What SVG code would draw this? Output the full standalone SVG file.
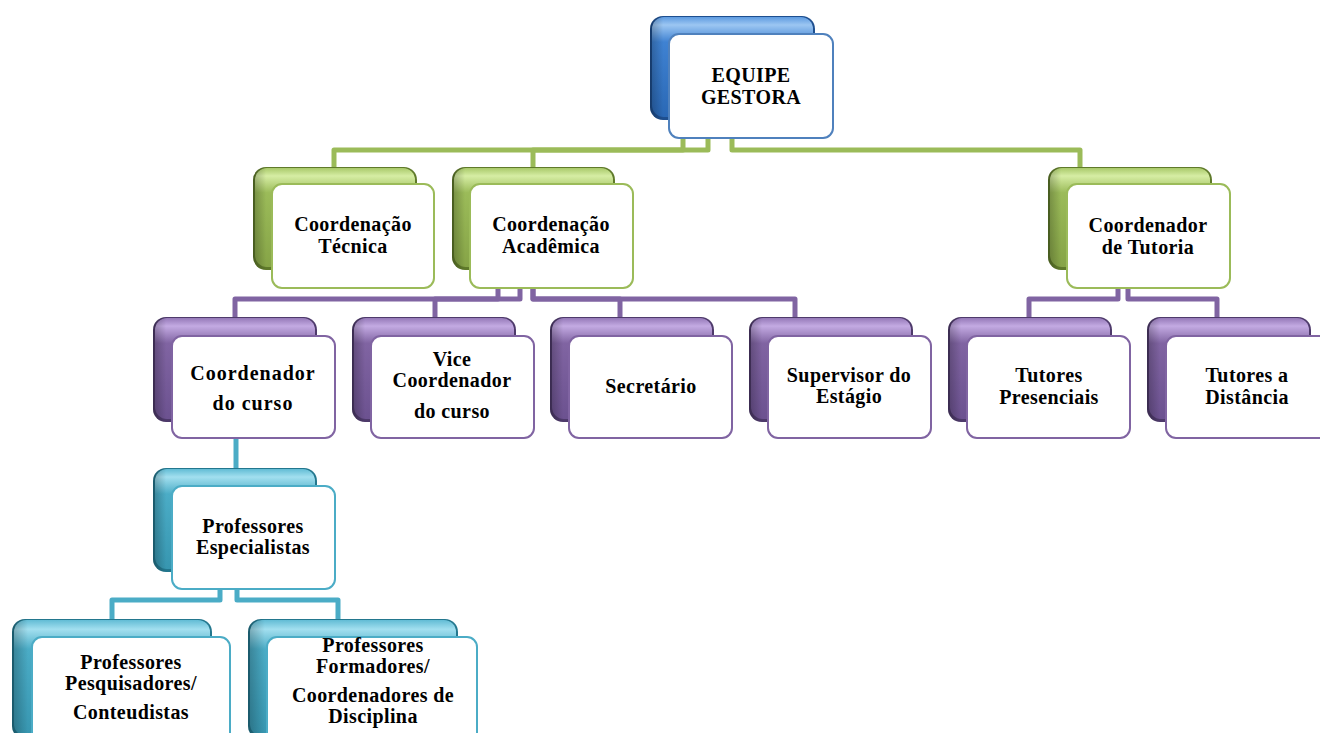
<svg xmlns="http://www.w3.org/2000/svg" width="1320" height="733" viewBox="0 0 1320 733">
<style>
  .t { font-family: "Liberation Serif", "Times New Roman", serif; font-weight: bold; font-size: 20px; fill: #000; text-anchor: middle; letter-spacing: 0.4px; }
  .front { fill: #fff; stroke-width: 2; }
  .conn { fill: none; stroke-width: 5; stroke-linejoin: round; stroke-linecap: butt; }
  .cg { stroke: #9BBB59; }
  .cp { stroke: #8064A2; }
  .ct { stroke: #4BACC6; }
  .bB { fill: #1E4F8F; } .iB { fill: url(#gB); } .fB { stroke: #4F81BD; }
  .bG { fill: #5F7A2A; } .iG { fill: url(#gG); } .fG { stroke: #9BBB59; }
  .bP { fill: #4E3A6B; } .iP { fill: url(#gP); } .fP { stroke: #8064A2; }
  .bT { fill: #23778E; } .iT { fill: url(#gT); } .fT { stroke: #4BACC6; }
  .shade { fill: url(#side); }
</style>
<defs>
  <linearGradient id="gB" x1="0" y1="0" x2="0" y2="1">
    <stop offset="0" stop-color="#5E9BE0"/><stop offset="0.08" stop-color="#9CC6F2"/><stop offset="0.25" stop-color="#3F82D2"/><stop offset="1" stop-color="#2A68B5"/>
  </linearGradient>
  <linearGradient id="gG" x1="0" y1="0" x2="0" y2="1">
    <stop offset="0" stop-color="#A9C96A"/><stop offset="0.08" stop-color="#D6EDA4"/><stop offset="0.25" stop-color="#9BBB59"/><stop offset="1" stop-color="#86A447"/>
  </linearGradient>
  <linearGradient id="gP" x1="0" y1="0" x2="0" y2="1">
    <stop offset="0" stop-color="#9579B8"/><stop offset="0.08" stop-color="#C3AAE2"/><stop offset="0.25" stop-color="#8064A2"/><stop offset="1" stop-color="#6C5290"/>
  </linearGradient>
  <linearGradient id="gT" x1="0" y1="0" x2="0" y2="1">
    <stop offset="0" stop-color="#62BCD5"/><stop offset="0.08" stop-color="#A2DFEF"/><stop offset="0.25" stop-color="#4BACC6"/><stop offset="1" stop-color="#3796B0"/>
  </linearGradient>
  <linearGradient id="side" x1="0" y1="0" x2="1" y2="0">
    <stop offset="0" stop-color="#000" stop-opacity="0.25"/><stop offset="0.08" stop-color="#000" stop-opacity="0"/><stop offset="1" stop-color="#000" stop-opacity="0"/>
  </linearGradient>
</defs>

<g id="connectors">
  <path class="conn cg" d="M683,138 V150 H334 V167"/>
  <path class="conn cg" d="M708,138 V150 H533 V167"/>
  <path class="conn cg" d="M732,138 V150 H1080 V167"/>
  <path class="conn cp" d="M498,288 V299 H235 V317"/>
  <path class="conn cp" d="M520,288 V299 H435 V317"/>
  <path class="conn cp" d="M533,288 V299 H620 V317"/>
  <path class="conn cp" d="M533,288 V299 H795 V317"/>
  <path class="conn cp" d="M1118,288 V299 H1029 V317"/>
  <path class="conn cp" d="M1128,288 V299 H1217 V317"/>
  <path class="conn ct" d="M236,438 V468"/>
  <path class="conn ct" d="M220,589 V600 H112 V619"/>
  <path class="conn ct" d="M237,589 V600 H338 V619"/>
</g>

<g id="equipe-gestora">
  <rect class="bB" x="650" y="16" width="165" height="104" rx="13"/>
  <rect class="iB" x="652" y="17" width="161" height="100" rx="12"/>
  <rect class="shade" x="650" y="16" width="165" height="104" rx="13"/>
  <rect class="front fB" x="669" y="34" width="164" height="104" rx="10"/>
  <text class="t" x="751" y="82">EQUIPE</text>
  <text class="t" x="751" y="104">GESTORA</text>
</g>

<g id="coord-tecnica">
  <rect class="bG" x="253" y="167" width="164" height="103" rx="13"/>
  <rect class="iG" x="255" y="168" width="160" height="99" rx="12"/>
  <rect class="shade" x="253" y="167" width="164" height="103" rx="13"/>
  <rect class="front fG" x="272" y="184" width="162" height="104" rx="10"/>
  <text class="t" x="353" y="231">Coordenação</text>
  <text class="t" x="353" y="253">Técnica</text>
</g>

<g id="coord-academica">
  <rect class="bG" x="452" y="167" width="163" height="103" rx="13"/>
  <rect class="iG" x="454" y="168" width="159" height="99" rx="12"/>
  <rect class="shade" x="452" y="167" width="163" height="103" rx="13"/>
  <rect class="front fG" x="470" y="184" width="163" height="104" rx="10"/>
  <text class="t" x="551" y="231">Coordenação</text>
  <text class="t" x="551" y="253">Acadêmica</text>
</g>

<g id="coord-tutoria">
  <rect class="bG" x="1048" y="167" width="164" height="103" rx="13"/>
  <rect class="iG" x="1050" y="168" width="160" height="99" rx="12"/>
  <rect class="shade" x="1048" y="167" width="164" height="103" rx="13"/>
  <rect class="front fG" x="1067" y="184" width="163" height="104" rx="10"/>
  <text class="t" x="1148" y="232">Coordenador</text>
  <text class="t" x="1148" y="254">de Tutoria</text>
</g>

<g id="coord-curso">
  <rect class="bP" x="153" y="317" width="164" height="105" rx="13"/>
  <rect class="iP" x="155" y="318" width="160" height="101" rx="12"/>
  <rect class="shade" x="153" y="317" width="164" height="105" rx="13"/>
  <rect class="front fP" x="172" y="336" width="163" height="102" rx="10"/>
  <text class="t" x="253" y="380" style="letter-spacing:1px">Coordenador</text>
  <text class="t" x="253" y="410" style="letter-spacing:1px">do curso</text>
</g>

<g id="vice-coord">
  <rect class="bP" x="352" y="317" width="164" height="105" rx="13"/>
  <rect class="iP" x="354" y="318" width="160" height="101" rx="12"/>
  <rect class="shade" x="352" y="317" width="164" height="105" rx="13"/>
  <rect class="front fP" x="371" y="336" width="163" height="102" rx="10"/>
  <text class="t" x="452" y="366">Vice</text>
  <text class="t" x="452" y="387">Coordenador</text>
  <text class="t" x="452" y="418">do curso</text>
</g>

<g id="secretario">
  <rect class="bP" x="550" y="317" width="164" height="105" rx="13"/>
  <rect class="iP" x="552" y="318" width="160" height="101" rx="12"/>
  <rect class="shade" x="550" y="317" width="164" height="105" rx="13"/>
  <rect class="front fP" x="569" y="336" width="163" height="102" rx="10"/>
  <text class="t" x="651" y="393">Secretário</text>
</g>

<g id="supervisor">
  <rect class="bP" x="749" y="317" width="164" height="105" rx="13"/>
  <rect class="iP" x="751" y="318" width="160" height="101" rx="12"/>
  <rect class="shade" x="749" y="317" width="164" height="105" rx="13"/>
  <rect class="front fP" x="768" y="336" width="163" height="102" rx="10"/>
  <text class="t" x="849" y="382">Supervisor do</text>
  <text class="t" x="849" y="403">Estágio</text>
</g>

<g id="tutores-presenciais">
  <rect class="bP" x="948" y="317" width="164" height="105" rx="13"/>
  <rect class="iP" x="950" y="318" width="160" height="101" rx="12"/>
  <rect class="shade" x="948" y="317" width="164" height="105" rx="13"/>
  <rect class="front fP" x="967" y="336" width="163" height="102" rx="10"/>
  <text class="t" x="1049" y="382">Tutores</text>
  <text class="t" x="1049" y="404">Presenciais</text>
</g>

<g id="tutores-distancia">
  <rect class="bP" x="1147" y="317" width="164" height="105" rx="13"/>
  <rect class="iP" x="1149" y="318" width="160" height="101" rx="12"/>
  <rect class="shade" x="1147" y="317" width="164" height="105" rx="13"/>
  <rect class="front fP" x="1166" y="336" width="163" height="102" rx="10"/>
  <text class="t" x="1247" y="382">Tutores a</text>
  <text class="t" x="1247" y="404">Distância</text>
</g>

<g id="prof-especialistas">
  <rect class="bT" x="153" y="468" width="164" height="104" rx="13"/>
  <rect class="iT" x="155" y="469" width="160" height="100" rx="12"/>
  <rect class="shade" x="153" y="468" width="164" height="104" rx="13"/>
  <rect class="front fT" x="172" y="486" width="163" height="103" rx="10"/>
  <text class="t" x="253" y="533">Professores</text>
  <text class="t" x="253" y="554">Especialistas</text>
</g>

<g id="prof-pesquisadores">
  <rect class="bT" x="12" y="619" width="200" height="120" rx="13"/>
  <rect class="iT" x="14" y="620" width="196" height="116" rx="12"/>
  <rect class="shade" x="12" y="619" width="200" height="120" rx="13"/>
  <rect class="front fT" x="32" y="637" width="198" height="110" rx="10"/>
  <text class="t" x="131" y="669">Professores</text>
  <text class="t" x="131" y="690">Pesquisadores/</text>
  <text class="t" x="131" y="719">Conteudistas</text>
</g>

<g id="prof-formadores">
  <rect class="bT" x="248" y="619" width="210" height="120" rx="13"/>
  <rect class="iT" x="250" y="620" width="206" height="116" rx="12"/>
  <rect class="shade" x="248" y="619" width="210" height="120" rx="13"/>
  <rect class="front fT" x="267" y="637" width="210" height="110" rx="10"/>
  <text class="t" x="373" y="652">Professores</text>
  <text class="t" x="373" y="673">Formadores/</text>
  <text class="t" x="373" y="702">Coordenadores de</text>
  <text class="t" x="373" y="723">Disciplina</text>
</g>
</svg>
